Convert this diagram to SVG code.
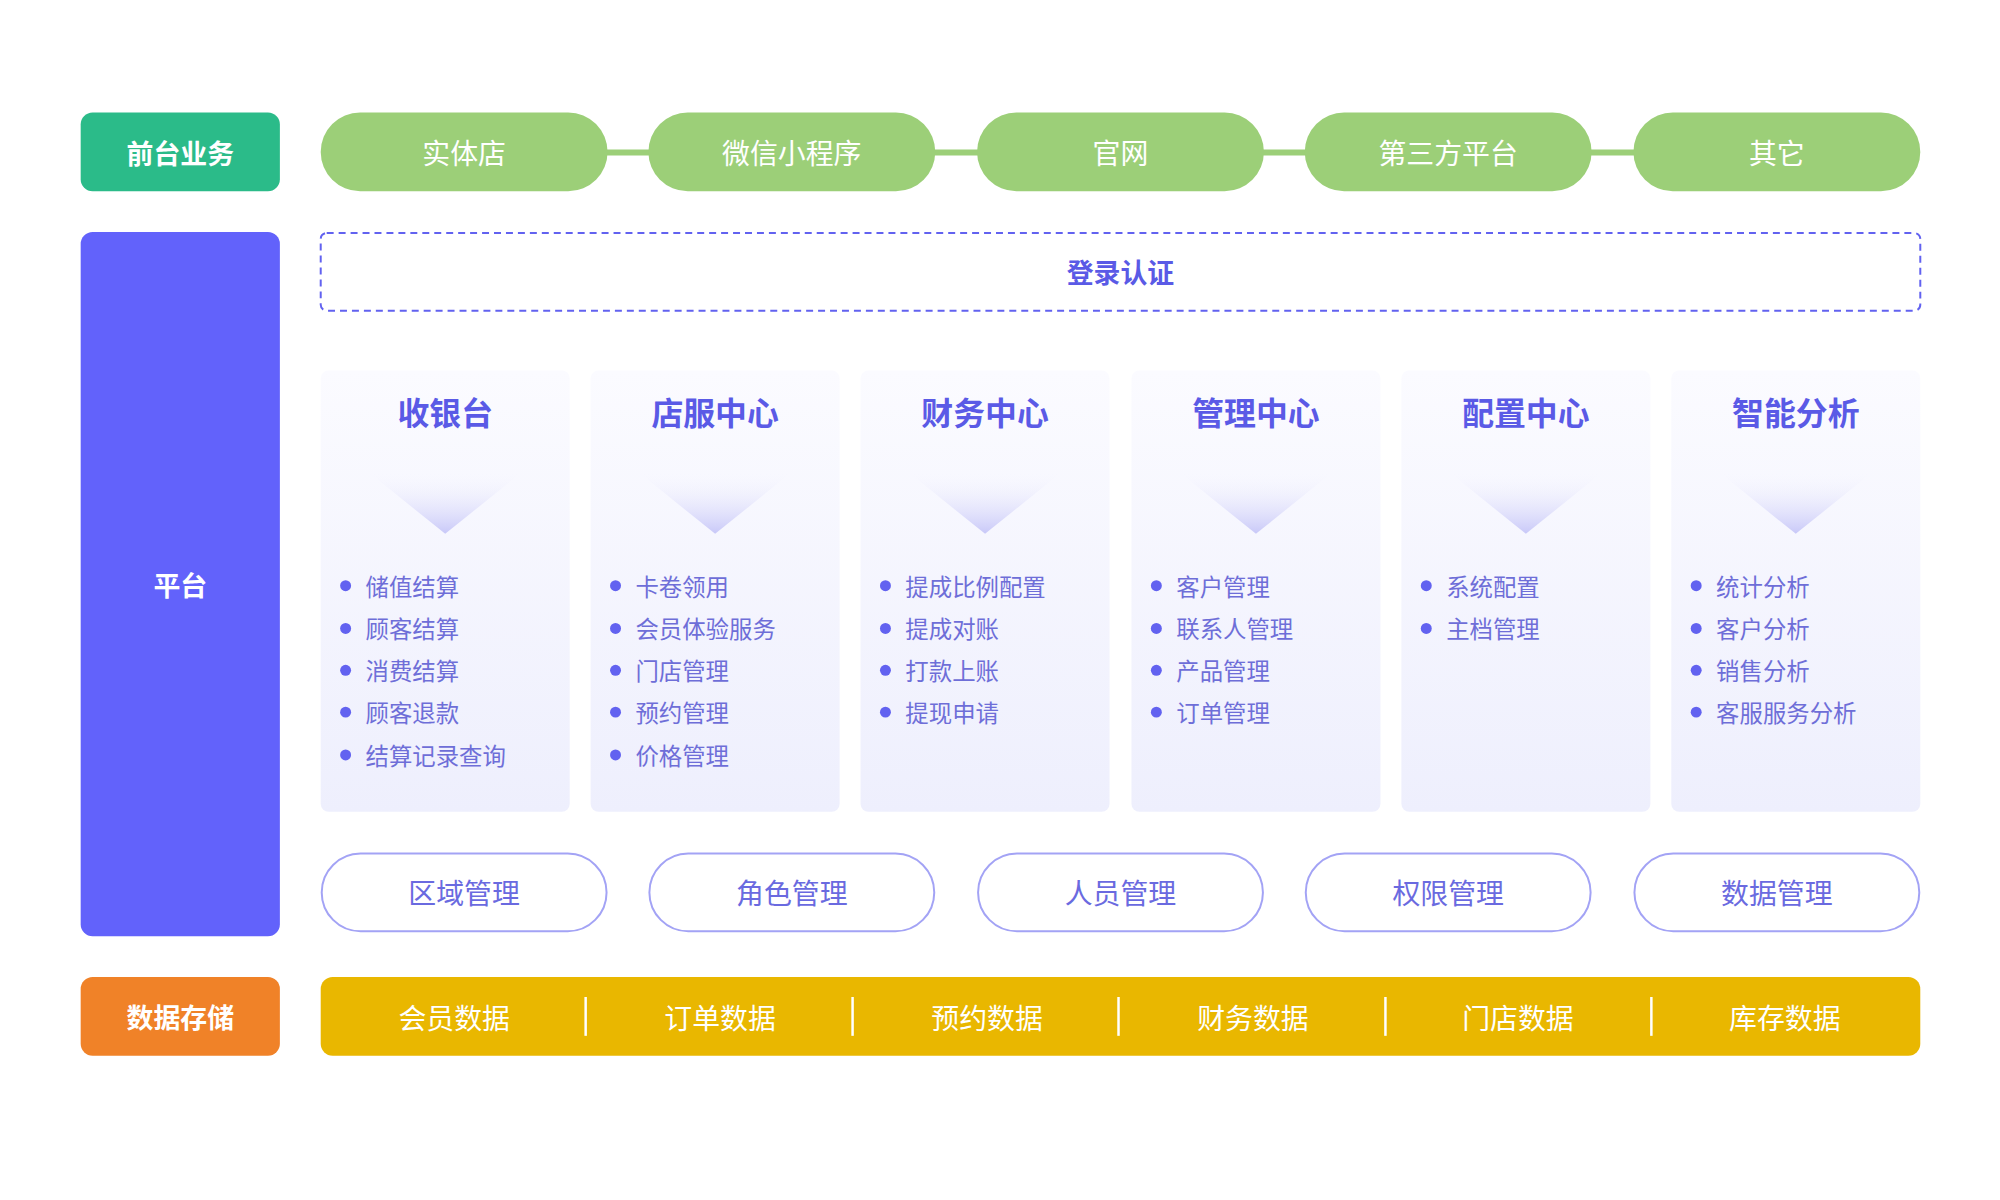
<svg xmlns="http://www.w3.org/2000/svg" width="2000" height="1200" viewBox="0 0 2000 1200">
<style>
text{font-family:"Noto Sans CJK SC","Noto Sans",sans-serif;text-anchor:middle;dominant-baseline:central}
.lab{fill:#fff;font-size:27px;font-weight:bold}
.pill{fill:#9ccf78}
.pt{fill:#fff;font-size:28px}
.ct{fill:#5a5ae6;font-size:32px;font-weight:bold}
.bt{fill:#6e6ed8;font-size:23.5px;text-anchor:start}
.bd{fill:#6262f0}
.op{fill:#fff;stroke:#a3a3f5;stroke-width:2}
.ot{fill:#6a6ae0;font-size:28px}
.dt{fill:#fff;font-size:28px}
</style>
<defs>
<linearGradient id="cg" x1="0" y1="0" x2="0" y2="1"><stop offset="0" stop-color="#fbfbff"/><stop offset="1" stop-color="#eeeffd"/></linearGradient>
<linearGradient id="tg" x1="0" y1="0" x2="0" y2="1"><stop offset="0" stop-color="#f6f6fe" stop-opacity="0"/><stop offset="1" stop-color="#c8c8f8"/></linearGradient>
</defs>
<g transform="scale(0.996)">
<g id="labels">
<rect x="81" y="113" width="200" height="79" rx="12" fill="#2bbb89"/><text class="lab" x="181" y="153">前台业务</text>
<rect x="81" y="233" width="200" height="707" rx="12" fill="#6262fb"/><text class="lab" x="181" y="587">平台</text>
<rect x="81" y="981" width="200" height="79" rx="12" fill="#f08228"/><text class="lab" x="181" y="1021">数据存储</text>
</g>
<g id="connectors" stroke="#9ccf78" stroke-width="6">
<line x1="600" y1="153" x2="660" y2="153"/><line x1="930" y1="153" x2="990" y2="153"/><line x1="1260" y1="153" x2="1320" y2="153"/><line x1="1590" y1="153" x2="1650" y2="153"/>
</g>
<g id="front">
<rect class="pill" x="322" y="113" width="288" height="79" rx="39.5"/><text class="pt" x="466" y="153">实体店</text>
<rect class="pill" x="651" y="113" width="288" height="79" rx="39.5"/><text class="pt" x="795" y="153">微信小程序</text>
<rect class="pill" x="981" y="113" width="288" height="79" rx="39.5"/><text class="pt" x="1125" y="153">官网</text>
<rect class="pill" x="1310" y="113" width="288" height="79" rx="39.5"/><text class="pt" x="1454" y="153">第三方平台</text>
<rect class="pill" x="1640" y="113" width="288" height="79" rx="39.5"/><text class="pt" x="1784" y="153">其它</text>
</g>
<g id="login">
<rect x="322" y="234" width="1606" height="78" rx="6" fill="#fff" stroke="#6262f0" stroke-width="2" stroke-dasharray="7,5"/>
<text x="1125" y="273" fill="#5a5ae6" font-size="27" font-weight="bold">登录认证</text>
</g>
<g id="cards">
<g id="c1" transform="translate(322,372)">
<rect width="250" height="443" rx="8" fill="url(#cg)"/><text class="ct" x="125" y="41">收银台</text>
<polygon points="48,102 202,102 125,164" fill="url(#tg)"/>
<circle class="bd" cx="25" cy="216" r="5.5"/><text class="bt" x="45" y="216">储值结算</text>
<circle class="bd" cx="25" cy="259" r="5.5"/><text class="bt" x="45" y="259">顾客结算</text>
<circle class="bd" cx="25" cy="301" r="5.5"/><text class="bt" x="45" y="301">消费结算</text>
<circle class="bd" cx="25" cy="343" r="5.5"/><text class="bt" x="45" y="343">顾客退款</text>
<circle class="bd" cx="25" cy="386" r="5.5"/><text class="bt" x="45" y="386">结算记录查询</text>
</g>
<g id="c2" transform="translate(593,372)">
<rect width="250" height="443" rx="8" fill="url(#cg)"/><text class="ct" x="125" y="41">店服中心</text>
<polygon points="48,102 202,102 125,164" fill="url(#tg)"/>
<circle class="bd" cx="25" cy="216" r="5.5"/><text class="bt" x="45" y="216">卡卷领用</text>
<circle class="bd" cx="25" cy="259" r="5.5"/><text class="bt" x="45" y="259">会员体验服务</text>
<circle class="bd" cx="25" cy="301" r="5.5"/><text class="bt" x="45" y="301">门店管理</text>
<circle class="bd" cx="25" cy="343" r="5.5"/><text class="bt" x="45" y="343">预约管理</text>
<circle class="bd" cx="25" cy="386" r="5.5"/><text class="bt" x="45" y="386">价格管理</text>
</g>
<g id="c3" transform="translate(864,372)">
<rect width="250" height="443" rx="8" fill="url(#cg)"/><text class="ct" x="125" y="41">财务中心</text>
<polygon points="48,102 202,102 125,164" fill="url(#tg)"/>
<circle class="bd" cx="25" cy="216" r="5.5"/><text class="bt" x="45" y="216">提成比例配置</text>
<circle class="bd" cx="25" cy="259" r="5.5"/><text class="bt" x="45" y="259">提成对账</text>
<circle class="bd" cx="25" cy="301" r="5.5"/><text class="bt" x="45" y="301">打款上账</text>
<circle class="bd" cx="25" cy="343" r="5.5"/><text class="bt" x="45" y="343">提现申请</text>
</g>
<g id="c4" transform="translate(1136,372)">
<rect width="250" height="443" rx="8" fill="url(#cg)"/><text class="ct" x="125" y="41">管理中心</text>
<polygon points="48,102 202,102 125,164" fill="url(#tg)"/>
<circle class="bd" cx="25" cy="216" r="5.5"/><text class="bt" x="45" y="216">客户管理</text>
<circle class="bd" cx="25" cy="259" r="5.5"/><text class="bt" x="45" y="259">联系人管理</text>
<circle class="bd" cx="25" cy="301" r="5.5"/><text class="bt" x="45" y="301">产品管理</text>
<circle class="bd" cx="25" cy="343" r="5.5"/><text class="bt" x="45" y="343">订单管理</text>
</g>
<g id="c5" transform="translate(1407,372)">
<rect width="250" height="443" rx="8" fill="url(#cg)"/><text class="ct" x="125" y="41">配置中心</text>
<polygon points="48,102 202,102 125,164" fill="url(#tg)"/>
<circle class="bd" cx="25" cy="216" r="5.5"/><text class="bt" x="45" y="216">系统配置</text>
<circle class="bd" cx="25" cy="259" r="5.5"/><text class="bt" x="45" y="259">主档管理</text>
</g>
<g id="c6" transform="translate(1678,372)">
<rect width="250" height="443" rx="8" fill="url(#cg)"/><text class="ct" x="125" y="41">智能分析</text>
<polygon points="48,102 202,102 125,164" fill="url(#tg)"/>
<circle class="bd" cx="25" cy="216" r="5.5"/><text class="bt" x="45" y="216">统计分析</text>
<circle class="bd" cx="25" cy="259" r="5.5"/><text class="bt" x="45" y="259">客户分析</text>
<circle class="bd" cx="25" cy="301" r="5.5"/><text class="bt" x="45" y="301">销售分析</text>
<circle class="bd" cx="25" cy="343" r="5.5"/><text class="bt" x="45" y="343">客服服务分析</text>
</g>
</g>
<g id="mgmt">
<rect class="op" x="323" y="857" width="286" height="78" rx="39"/><text class="ot" x="466" y="896">区域管理</text>
<rect class="op" x="652" y="857" width="286" height="78" rx="39"/><text class="ot" x="795" y="896">角色管理</text>
<rect class="op" x="982" y="857" width="286" height="78" rx="39"/><text class="ot" x="1125" y="896">人员管理</text>
<rect class="op" x="1311" y="857" width="286" height="78" rx="39"/><text class="ot" x="1454" y="896">权限管理</text>
<rect class="op" x="1641" y="857" width="286" height="78" rx="39"/><text class="ot" x="1784" y="896">数据管理</text>
</g>
<g id="data">
<rect x="322" y="981" width="1606" height="79" rx="12" fill="#e9b700"/>
<g stroke="#fff" stroke-width="2.5"><line x1="588" y1="1001" x2="588" y2="1040"/><line x1="856" y1="1001" x2="856" y2="1040"/><line x1="1123" y1="1001" x2="1123" y2="1040"/><line x1="1391" y1="1001" x2="1391" y2="1040"/><line x1="1658" y1="1001" x2="1658" y2="1040"/></g>
<text class="dt" x="456" y="1021">会员数据</text><text class="dt" x="723" y="1021">订单数据</text><text class="dt" x="991" y="1021">预约数据</text><text class="dt" x="1258" y="1021">财务数据</text><text class="dt" x="1524" y="1021">门店数据</text><text class="dt" x="1792" y="1021">库存数据</text>
</g>
</g>
</svg>
